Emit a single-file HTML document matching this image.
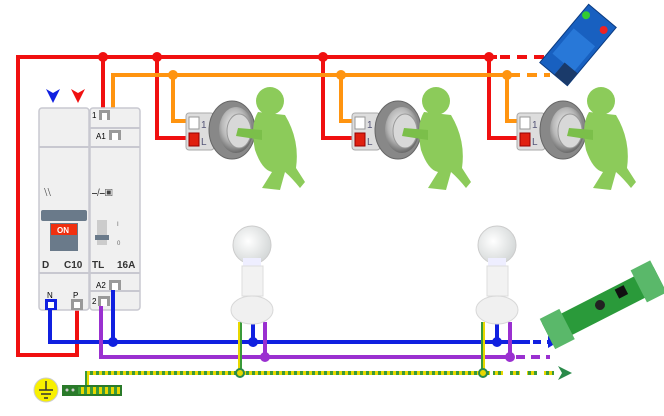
<!DOCTYPE html>
<html><head><meta charset="utf-8"><style>
html,body{margin:0;padding:0;background:#fff;width:664px;height:416px;overflow:hidden}
svg{display:block;font-family:"Liberation Sans",sans-serif}
</style></head><body>
<svg width="664" height="416" viewBox="0 0 664 416" xmlns="http://www.w3.org/2000/svg">
<defs>
<radialGradient id="btn" cx="0.45" cy="0.4" r="0.6"><stop offset="0" stop-color="#f4f4f4"/><stop offset="0.6" stop-color="#b8b8b8"/><stop offset="1" stop-color="#6a6a6a"/></radialGradient>
<radialGradient id="bulb" cx="0.4" cy="0.4" r="0.7"><stop offset="0" stop-color="#ffffff"/><stop offset="1" stop-color="#cfd3d3"/></radialGradient>
<pattern id="earth" width="6" height="6" patternUnits="userSpaceOnUse"><rect width="6" height="6" fill="#e8d800"/><rect width="3" height="6" fill="#3a9a3a"/></pattern>
<g id="grp">
  <rect x="186" y="113" width="28" height="37" rx="3" fill="#ddd" stroke="#aaa"/>
  <rect x="189" y="117" width="10" height="12" fill="#fff" stroke="#999"/>
  <text x="201" y="128" font-size="10" fill="#557">1</text>
  <rect x="189" y="133" width="10" height="13" fill="#e02010" stroke="#900"/>
  <text x="201" y="145" font-size="10" fill="#557">L</text>
  <ellipse cx="232" cy="130" rx="23" ry="29" fill="#888" stroke="#666"/>
  <ellipse cx="236" cy="130" rx="17" ry="23" fill="url(#btn)"/>
  <ellipse cx="239" cy="131" rx="12" ry="17" fill="#d8d8d8" stroke="#999"/>
  <circle cx="270" cy="101" r="14" fill="#8ccb5a"/>
  <path d="M258 112 Q250 125 255 150 Q262 170 272 172 L262 188 L280 190 L285 172 Q292 178 300 188 L305 182 L296 168 Q300 140 285 115 Z" fill="#8ccb5a"/>
  <path d="M262 130 L238 128 L236 136 L262 140 Z" fill="#7bbf4a"/>
</g>
<g id="lamp">
  <circle cx="252" cy="245" r="19" fill="url(#bulb)" stroke="#ccc"/>
  <rect x="243" y="258" width="18" height="10" fill="#eef"/>
  <rect x="242" y="266" width="21" height="30" fill="#f2f2f2" stroke="#ddd"/>
  <ellipse cx="252" cy="310" rx="21" ry="14" fill="#f0f0f0" stroke="#d8d8d8"/>
</g>
</defs>

<!-- red -->
<g fill="none" stroke="#f01010" stroke-width="4">
<path d="M497 57 H18 V355 H77 V300"/>
<path d="M103 57 V113"/>
<path d="M157 57 V138 H188"/>
<path d="M323 57 V138 H353"/>
<path d="M489 57 V138 H518"/>
<path d="M500 57 H545" stroke-dasharray="10,7"/>
</g>
<g fill="#f01010"><circle cx="103" cy="57" r="5"/><circle cx="157" cy="57" r="5"/><circle cx="323" cy="57" r="5"/><circle cx="489" cy="57" r="5"/></g>
<!-- orange -->
<g fill="none" stroke="#ff9410" stroke-width="4">
<path d="M113 133 V75 H505"/>
<path d="M173 75 V121 H188"/>
<path d="M341 75 V121 H353"/>
<path d="M507 75 V121 H518"/>
<path d="M510 75 H550" stroke-dasharray="10,7"/>
</g>
<g fill="#ff9410"><circle cx="173" cy="75" r="5"/><circle cx="341" cy="75" r="5"/><circle cx="507" cy="75" r="5"/></g>

<!-- modules -->
<polygon points="46,89 53,103 60,89 53,93" fill="#1020e0"/>
<polygon points="71,89 78,103 85,89 78,93" fill="#f01010"/>
<rect x="39" y="108" width="50" height="202" rx="3" fill="#f0f0f0" stroke="#c8c8d0" stroke-width="1.5"/>
<rect x="90" y="108" width="50" height="202" rx="3" fill="#f0f0f0" stroke="#c8c8d0" stroke-width="1.5"/>
<path d="M39 147H89M90 147H140M39 273H89M90 273H140M90 128H140M90 291H140" stroke="#c8c8d0" stroke-width="2"/>
<text x="92" y="118" font-size="8">1</text>
<rect x="99" y="110" width="11" height="10" fill="#999"/><rect x="102" y="113" width="5" height="7" fill="#fff"/>
<text x="96" y="139" font-size="8">A1</text>
<rect x="109" y="130" width="12" height="10" fill="#999"/><rect x="112" y="133" width="6" height="7" fill="#fff"/>
<text x="96" y="288" font-size="8">A2</text>
<rect x="109" y="280" width="12" height="10" fill="#999"/><rect x="112" y="283" width="6" height="7" fill="#fff"/>
<text x="92" y="304" font-size="8">2</text>
<rect x="98" y="296" width="12" height="10" fill="#999"/><rect x="101" y="299" width="6" height="7" fill="#fff"/>
<text x="47" y="298" font-size="8">N</text><text x="73" y="298" font-size="8">P</text>
<rect x="45" y="299" width="12" height="11" fill="#1020e0"/><rect x="48" y="302" width="6" height="6" fill="#fff"/>
<rect x="71" y="299" width="12" height="11" fill="#999"/><rect x="74" y="302" width="6" height="6" fill="#fff"/>
<text x="44" y="196" font-size="11" fill="#444">⧵⧵</text>
<text x="92" y="196" font-size="10" fill="#444">⎯/⎯▣</text>
<rect x="41" y="210" width="46" height="11" rx="2" fill="#6a7a8a"/>
<rect x="50" y="223" width="28" height="28" fill="#6a7a8a"/>
<rect x="51" y="224" width="26" height="11" fill="#f03010"/>
<text x="57" y="233" font-size="8" fill="#fff" font-weight="bold">ON</text>
<rect x="97" y="220" width="10" height="25" fill="#ccc"/><rect x="95" y="235" width="14" height="5" fill="#6a7a8a"/>
<text x="117" y="226" font-size="6" fill="#666">I</text><text x="117" y="245" font-size="6" fill="#666">0</text>
<g font-size="10" font-weight="bold" fill="#333">
<text x="42" y="268">D</text><text x="64" y="268">C10</text>
<text x="92" y="268">TL</text><text x="117" y="268">16A</text>
</g>

<use href="#grp"/>
<use href="#grp" transform="translate(166,0)"/>
<use href="#grp" transform="translate(331,0)"/>

<!-- bottom wires -->
<g fill="none" stroke-width="4">
<path d="M50 310 V342 H530" stroke="#1020e0"/>
<path d="M113 290 V342" stroke="#1020e0"/>
<path d="M253 322 V342 M497 322 V342" stroke="#1020e0"/>
<path d="M533 342 H548" stroke="#1020e0" stroke-dasharray="8,6"/>
<path d="M101 306 V357 H510" stroke="#9a30d0"/>
<path d="M265 322 V357 M510 322 V357" stroke="#9a30d0"/>
<path d="M516 357 H550" stroke="#9a30d0" stroke-dasharray="9,6"/>
<path d="M87 387 V373 H490 M240 322 V373 M483 322 V373" stroke="url(#earth)"/>
<path d="M493 373 H560" stroke="url(#earth)" stroke-dasharray="10,7"/>
</g>
<polygon points="548,336 558,342 548,348" fill="#1020e0"/>
<polygon points="558,366 572,373 558,380 562,373" fill="#2a8a4a"/>
<g fill="#1020e0"><circle cx="113" cy="342" r="5"/><circle cx="253" cy="342" r="5"/><circle cx="497" cy="342" r="5"/></g>
<g fill="#9a30d0"><circle cx="265" cy="357" r="5"/><circle cx="510" cy="357" r="5"/></g>
<g fill="#e8d800" stroke="#2a8a4a" stroke-width="2"><circle cx="240" cy="373" r="4"/><circle cx="483" cy="373" r="4"/></g>
<circle cx="46" cy="390" r="12" fill="#f8f000" stroke="#ccc"/>
<path d="M46 381V390M39 390H53M41 394H51M44 398H48" stroke="#333" stroke-width="1.5"/>
<rect x="62" y="385" width="60" height="11" fill="#2a7a2a"/>
<rect x="78" y="387" width="42" height="7" fill="url(#earth)"/>
<circle cx="67" cy="390" r="1.5" fill="#ccc"/><circle cx="73" cy="390" r="1.5" fill="#ccc"/>

<use href="#lamp"/>
<use href="#lamp" transform="translate(245,0)"/>

<!-- relay board -->
<g transform="rotate(-50 578 45)">
<rect x="540" y="27" width="76" height="36" fill="#1860c0" stroke="#0a3a80"/>
<rect x="555" y="31" width="33" height="28" fill="#2878d8"/>
<rect x="540" y="46" width="16" height="17" fill="#1a3a6a"/>
<circle cx="606" cy="32" r="4" fill="#3c3"/><circle cx="606" cy="55" r="4" fill="#e22"/>
</g>
<!-- sensor board -->
<g transform="rotate(-27 600 305)">
<rect x="540" y="295" width="125" height="24" fill="#2a9a3a"/>
<rect x="540" y="290" width="22" height="34" fill="#5ab86a"/>
<rect x="643" y="288" width="22" height="36" fill="#5ab86a"/>
<circle cx="600" cy="305" r="5" fill="#222"/>
<rect x="620" y="298" width="10" height="10" fill="#111"/>
</g>
</svg>
</body></html>
